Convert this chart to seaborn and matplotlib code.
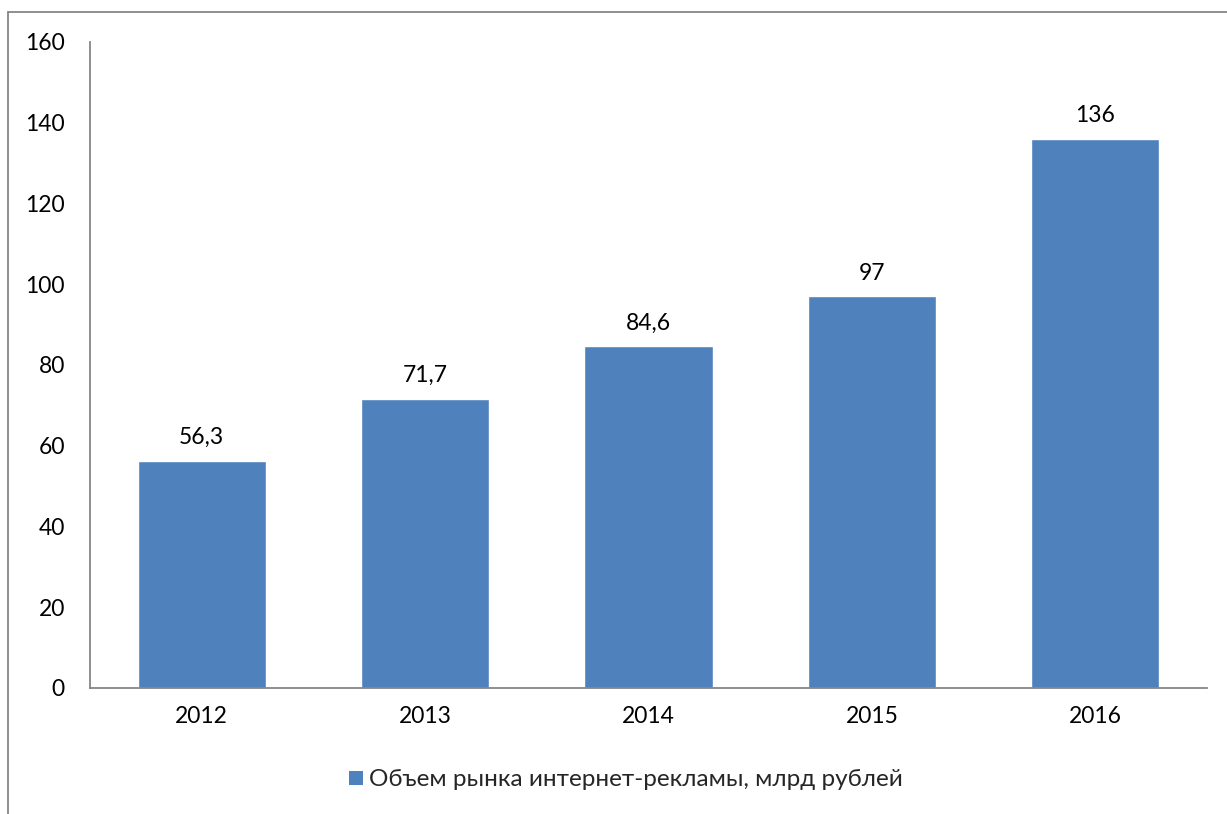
import matplotlib
matplotlib.use("Agg")
import matplotlib.pyplot as plt
from matplotlib.lines import Line2D
from matplotlib.patches import Patch
import seaborn as sns
import pandas as pd

years = ["2012", "2013", "2014", "2015", "2016"]
values = [56.3, 71.7, 84.6, 97, 136]
series_name = "Объем рынка интернет-рекламы, млрд рублей"
y_ticks = [0, 20, 40, 60, 80, 100, 120, 140, 160]

sns.set_theme(style="white")
plt.rcParams["font.family"] = ["Lato", "DejaVu Sans"]

bar_color = "#4F81BD"
axis_color = "#868686"

df = pd.DataFrame({"year": years, "value": values})

fig = plt.figure(figsize=(12.27, 8.14), dpi=100)
ax = fig.add_axes([90/1227, 1-688/814, (1207-90)/1227, (688-42)/814])

sns.barplot(data=df, x="year", y="value", color=bar_color, saturation=1,
            width=0.573, ax=ax)

ax.set_ylim(0, 160)
ax.set_yticks(y_ticks)
ax.set_xlabel("")
ax.set_ylabel("")
ax.tick_params(axis="y", length=0, pad=18, labelsize=16.5, labelcolor="black")
ax.tick_params(axis="x", length=0, pad=13, labelsize=16.5, labelcolor="black")
for s in ["top", "right"]:
    ax.spines[s].set_visible(False)
for s in ["left", "bottom"]:
    ax.spines[s].set_color(axis_color)
    ax.spines[s].set_linewidth(1.3)
ax.grid(False)

for i, v in enumerate(values):
    lbl = f"{v:g}".replace(".", ",")
    ax.annotate(lbl, (i, v), xytext=(0, 9), textcoords="offset points",
                ha="center", va="bottom", fontsize=16.5, color="black")

handle = Patch(facecolor=bar_color, edgecolor="none")
fig.legend([handle], [series_name], loc="center", bbox_to_anchor=(626/1227, 1-780/814),
           frameon=False, fontsize=17.5, handlelength=0.55, handleheight=0.55,
           handletextpad=0.25)

fig.add_artist(Line2D([8/1227, 1.0], [1-12/814, 1-12/814], color=axis_color, lw=1.3,
                      transform=fig.transFigure))
fig.add_artist(Line2D([8/1227, 8/1227], [1-12/814, 0], color=axis_color, lw=1.3,
                      transform=fig.transFigure))

fig.savefig("out.png", dpi=100, facecolor="white")
